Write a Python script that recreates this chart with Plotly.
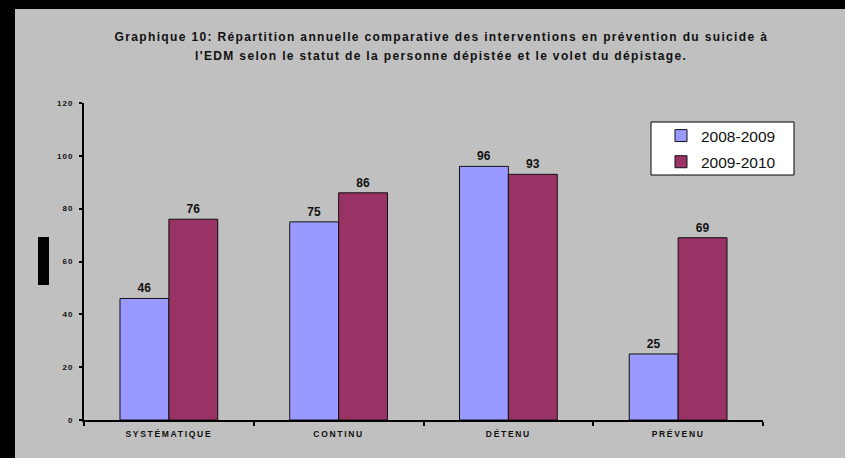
import plotly.graph_objects as go

# Chart data
categories = ["SYSTÉMATIQUE", "CONTINU", "DÉTENU", "PRÉVENU"]
series_names = ["2008-2009", "2009-2010"]
values_2008_2009 = [46, 75, 96, 25]
values_2009_2010 = [76, 86, 93, 69]
y_ticks = [0, 20, 40, 60, 80, 100, 120]
title_lines = [
    "Graphique 10: Répartition annuelle comparative des interventions en prévention du suicide à",
    "l'EDM selon le statut de la personne dépistée et le volet du dépistage.",
]

colors = ["#9999FF", "#993366"]
bg = "#C0C0C0"
FONT = "Liberation Sans, Arial"
W, H = 845, 458
L, T = 84, 103
PLOT_RIGHT, PLOT_BOTTOM = 763, 420
R, B = W - PLOT_RIGHT, H - PLOT_BOTTOM
pw, ph = PLOT_RIGHT - L, PLOT_BOTTOM - T


def px_x(x):
    return (x - L) / pw


def px_y(y):
    return (PLOT_BOTTOM - y) / ph


fig = go.Figure()
for i, (name, vals, col) in enumerate(zip(series_names, [values_2008_2009, values_2009_2010], colors)):
    fig.add_trace(go.Bar(
        x=categories, y=vals, name=name, legendgroup=f"g{i}",
        marker=dict(color=col, line=dict(color="#111111", width=1)),
        text=[str(v) for v in vals], textposition="outside",
        textfont=dict(family=FONT, size=12, color="#111111", weight="bold"),
        cliponaxis=False,
    ))

annotations = []
for line, yy in zip(title_lines, [37, 56]):
    annotations.append(dict(
        text=line, xref="paper", yref="paper", x=px_x(441), y=px_y(yy),
        xanchor="center", yanchor="middle", showarrow=False,
        font=dict(family=FONT, size=12, color="#111111", weight="bold"),
    ))

shapes = [
    # dark frame strips on the top and left edges
    dict(type="rect", xref="paper", yref="paper", x0=px_x(0), x1=px_x(15), y0=px_y(H), y1=px_y(0),
         fillcolor="black", line=dict(width=0), layer="above"),
    dict(type="rect", xref="paper", yref="paper", x0=px_x(0), x1=px_x(W), y0=px_y(9), y1=px_y(0),
         fillcolor="black", line=dict(width=0), layer="above"),
    # small black block beside the value axis
    dict(type="rect", xref="paper", yref="paper", x0=px_x(38), x1=px_x(49), y0=px_y(285), y1=px_y(237),
         fillcolor="black", line=dict(width=0), layer="above"),
    # legend frame
    dict(type="rect", xref="paper", yref="paper", x0=px_x(651), x1=px_x(794), y0=px_y(175), y1=px_y(122),
         fillcolor="white", line=dict(color="black", width=1), layer="below"),
]

fig.update_layout(
    width=W, height=H,
    margin=dict(l=L, r=R, t=T, b=B, pad=0),
    paper_bgcolor=bg, plot_bgcolor="rgba(0,0,0,0)",
    barmode="group", bargap=0.424, bargroupgap=0,
    showlegend=True,
    legend=dict(
        x=px_x(661), y=px_y(119), xanchor="left", yanchor="top",
        bgcolor="rgba(0,0,0,0)", borderwidth=0,
        font=dict(family=FONT, size=15.5, color="#111111"),
        itemwidth=30, tracegroupgap=3,
    ),
    annotations=annotations,
    shapes=shapes,
    xaxis=dict(
        showline=True, linecolor="black", linewidth=2,
        ticks="outside", tickson="boundaries", ticklen=4, tickwidth=2, tickcolor="black",
        ticklabelstandoff=5,
        tickfont=dict(family=FONT, size=8.5, color="#111111", weight="bold"),
        showgrid=False, zeroline=False,
    ),
    yaxis=dict(
        range=[0, 120], tickvals=y_ticks,
        showline=True, linecolor="black", linewidth=2,
        ticks="outside", ticklen=3, tickwidth=2, tickcolor="black",
        ticklabelstandoff=4,
        tickfont=dict(family=FONT, size=8, color="#111111", weight="bold"),
        showgrid=False, zeroline=False,
    ),
)

# page background and letter spacing of the small bold labels
post_js = """
var gd = document.getElementById('{plot_id}');
document.documentElement.style.background = '#C0C0C0';
document.body.style.margin = '0';
document.body.style.background = '#C0C0C0';
function spaceLabels() {
  gd.querySelectorAll('.xtick text').forEach(function (t) { t.style.letterSpacing = '1.7px'; });
  gd.querySelectorAll('.ytick text').forEach(function (t) { t.style.letterSpacing = '1px'; });
  gd.querySelectorAll('.annotation-text').forEach(function (t) { t.style.letterSpacing = '1.35px'; });
}
spaceLabels();
gd.on('plotly_afterplot', spaceLabels);
"""

fig.write_html("out.html", post_script=post_js)
